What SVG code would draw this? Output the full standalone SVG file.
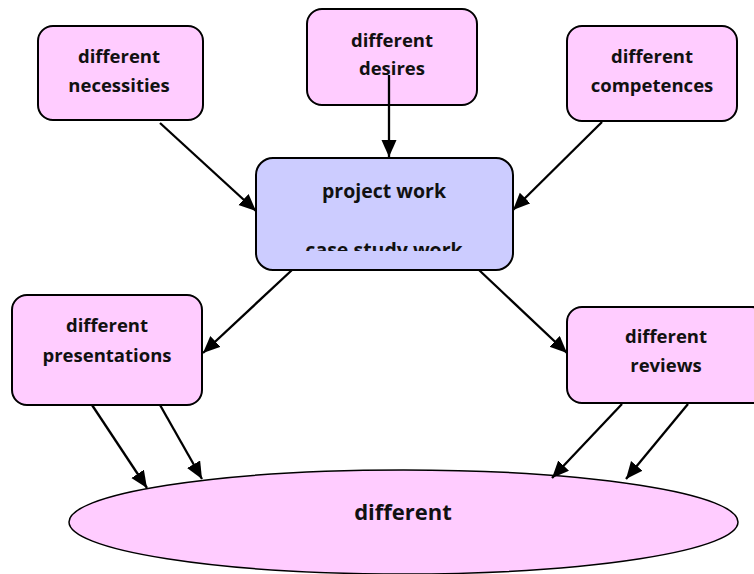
<svg xmlns="http://www.w3.org/2000/svg" width="754" height="574" viewBox="0 0 754 574">
<defs>
<marker id="ah" markerUnits="userSpaceOnUse" markerWidth="18" markerHeight="16" refX="17" refY="7.5" orient="auto">
<path d="M0,0 L17,7.5 L0,15 z" fill="#000"/>
</marker>
<clipPath id="cc"><rect x="256" y="158" width="257" height="93"/></clipPath>
</defs>
<style>
.b{fill:#ffccff;stroke:#000;stroke-width:2}
.c{fill:#ccccff;stroke:#000;stroke-width:2}
text{font-family:"Open Sans","Liberation Sans",sans-serif;font-weight:bold;font-size:18.5px;fill:#111;text-anchor:middle}
.l{stroke:#000;stroke-width:2.3;fill:none;marker-end:url(#ah)}
</style>
<rect width="754" height="574" fill="#fff"/>
<g id="necessities">
<rect class="b" x="38" y="26" width="165" height="94" rx="15"/>
<text x="119" y="63">different</text>
<text x="119" y="92">necessities</text>
</g>
<g id="desires">
<rect class="b" x="307" y="9" width="170" height="96" rx="15"/>
<text x="392" y="47">different</text>
<text x="392" y="75">desires</text>
</g>
<g id="competences">
<rect class="b" x="567" y="26" width="170" height="95" rx="15"/>
<text x="652" y="63">different</text>
<text x="652" y="92">competences</text>
</g>
<g id="project">
<rect class="c" x="256" y="158" width="257" height="112" rx="17"/>
<text x="384" y="198" style="font-size:19.5px">project work</text>
<text x="384" y="257" style="font-size:19.5px" clip-path="url(#cc)">case study work</text>
</g>
<g id="presentations">
<rect class="b" x="12" y="295" width="190" height="110" rx="15"/>
<text x="107" y="332">different</text>
<text x="107" y="362">presentations</text>
</g>
<g id="reviews">
<rect class="b" x="567" y="307" width="200" height="96" rx="15"/>
<text x="666" y="343">different</text>
<text x="666" y="372">reviews</text>
</g>
<g id="outcome">
<ellipse cx="403.5" cy="522" rx="334.5" ry="52" fill="#ffccff" stroke="#000" stroke-width="1.5"/>
<text x="403" y="520" style="font-size:22px">different</text>
</g>
<g id="connectors">
<line class="l" x1="160" y1="123" x2="256" y2="211"/>
<line class="l" x1="389" y1="75" x2="389" y2="157"/>
<line class="l" x1="602" y1="122" x2="513" y2="210"/>
<line class="l" x1="292" y1="270" x2="203" y2="353"/>
<line class="l" x1="479" y1="270" x2="567" y2="353"/>
<line class="l" x1="92" y1="405" x2="147" y2="488"/>
<line class="l" x1="160" y1="405" x2="202" y2="479"/>
<line class="l" x1="622" y1="404" x2="552" y2="478"/>
<line class="l" x1="688" y1="404" x2="626" y2="479"/>
</g>
</svg>
